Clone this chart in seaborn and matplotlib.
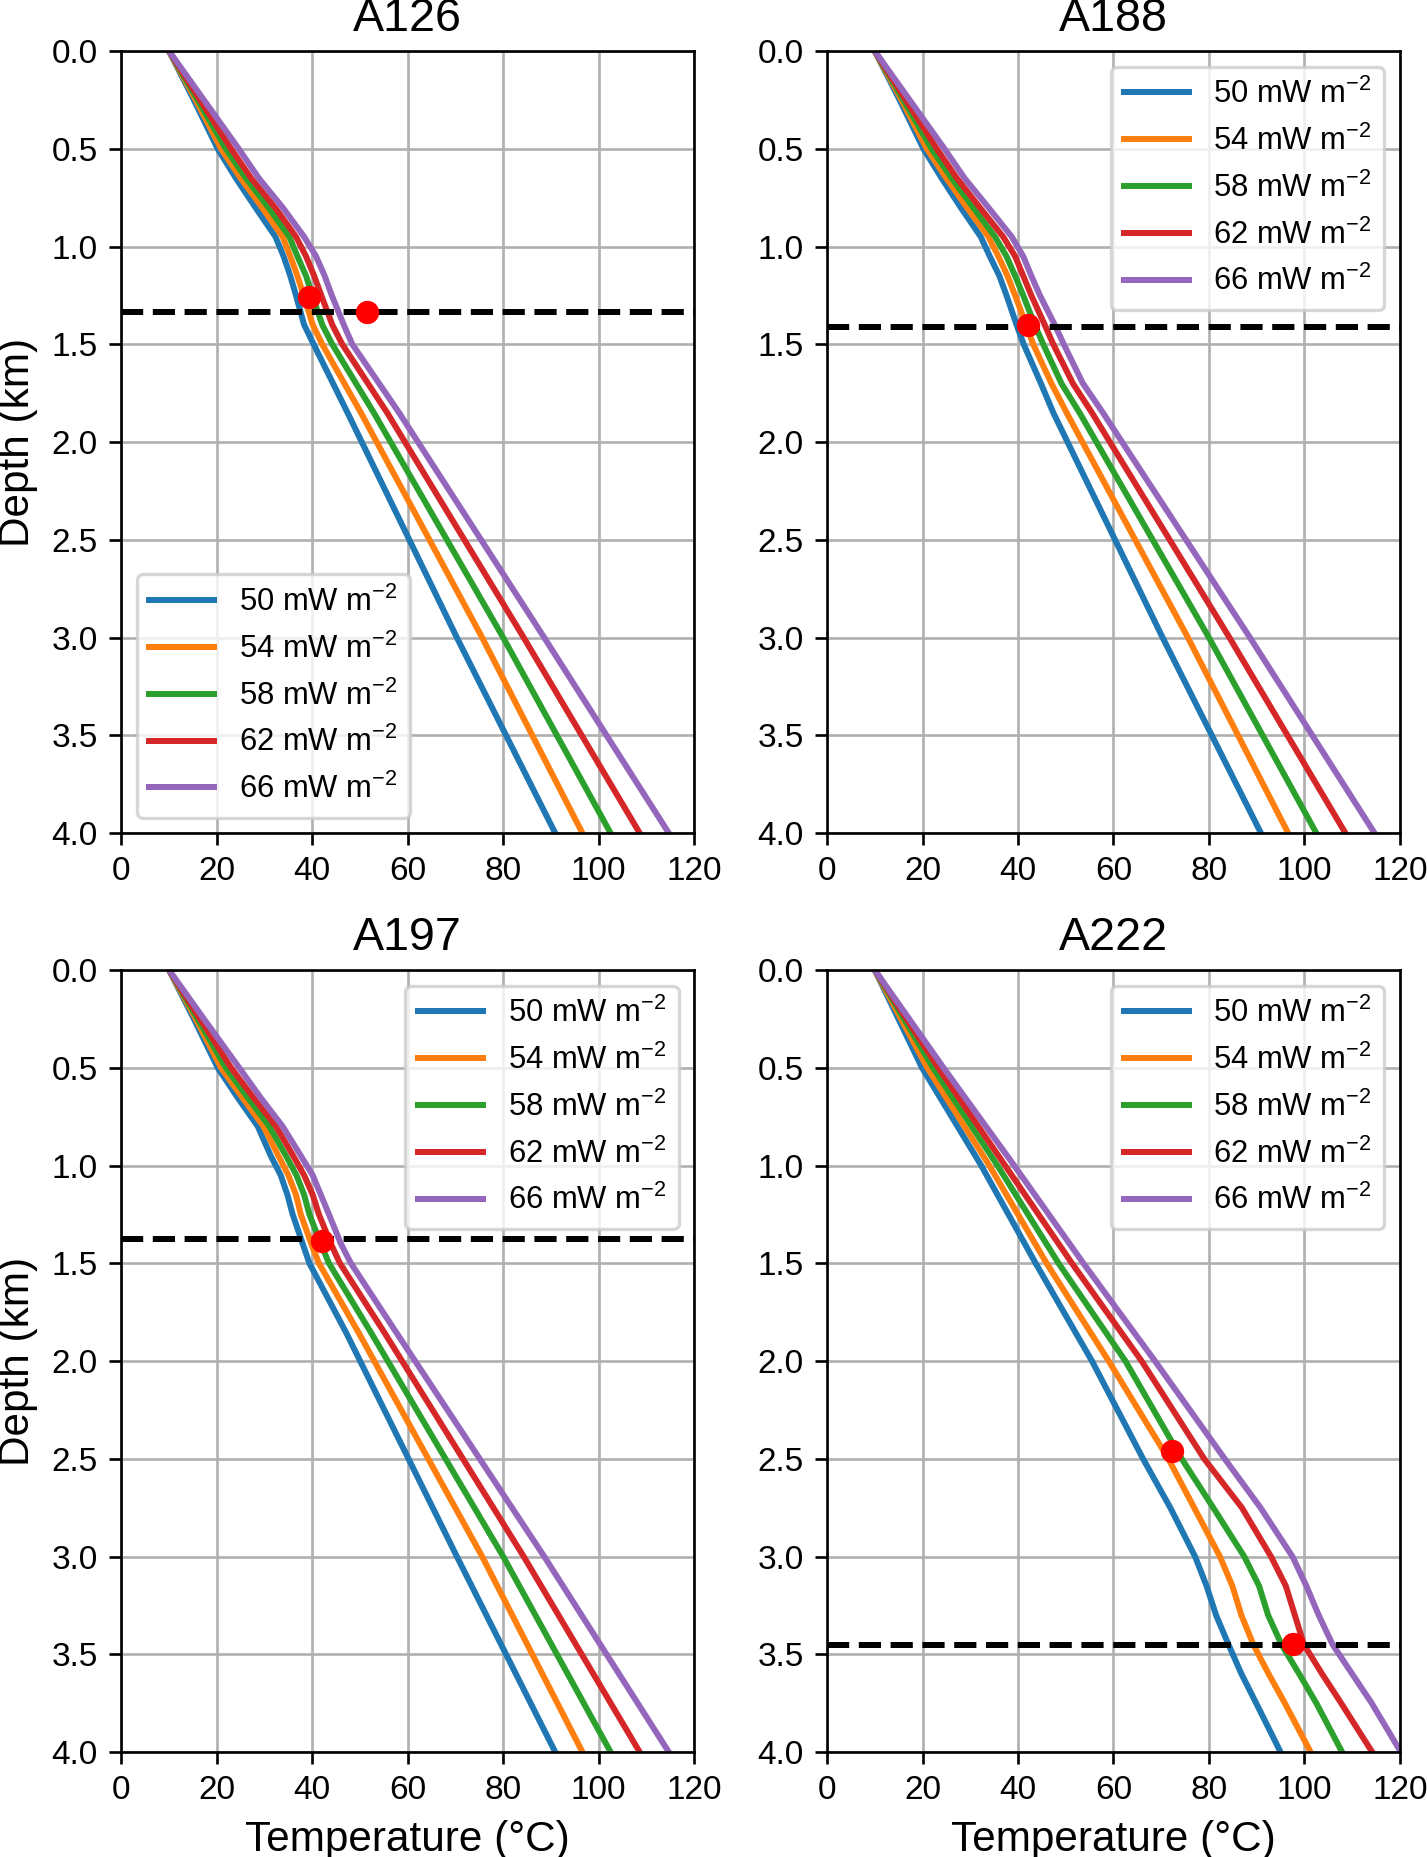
"""
Perfis de temperatura x profundidade para quatro poços (A126, A188, A197, A222),
um painel por poço, com uma curva por fluxo de calor basal.
"""

import matplotlib
matplotlib.use("Agg")
import matplotlib.pyplot as plt
import numpy as np
import pandas as pd
import seaborn as sns

# fluxos de calor (mW m-2) e cores das curvas
heat_flows = [50, 54, 58, 62, 66]
flow_labels = [f"{q} mW m$^{{-2}}$" for q in heat_flows]
colors = ["#1f77b4", "#ff7f0e", "#2ca02c", "#d62728", "#9467bd"]

wells = ["A126", "A188", "A197", "A222"]

# --- A126 ---
a126_depth = [0.0, 0.25, 0.5, 0.65, 0.8, 0.95, 1.05, 1.15, 1.25, 1.4, 1.5, 1.85, 3.0, 4.0]
a126_t50 = [10.0, 15.2, 20.2, 24.0, 28.1, 32.3, 34.0, 35.4, 36.6, 38.3, 40.3, 47.4, 70.3, 90.9]
a126_t54 = [10.0, 15.6, 20.9, 25.0, 29.5, 33.8, 35.4, 36.9, 38.2, 40.1, 42.1, 50.2, 75.6, 96.6]
a126_t58 = [10.0, 16.0, 21.9, 26.1, 30.8, 35.2, 36.9, 38.7, 40.0, 42.1, 44.2, 52.9, 80.0, 102.5]
a126_t62 = [10.0, 16.5, 23.0, 27.2, 32.2, 36.6, 38.7, 40.4, 41.9, 44.2, 46.3, 55.7, 84.3, 108.6]
a126_t66 = [10.0, 17.3, 24.6, 28.8, 33.8, 38.3, 40.8, 42.6, 44.1, 46.6, 48.4, 58.2, 88.6, 114.7]
a126_pick_t = [39.4, 51.4]
a126_pick_z = [1.258, 1.336]
a126_top = 1.336

# --- A188 ---
a188_depth = [0.0, 0.25, 0.5, 0.65, 0.8, 0.95, 1.05, 1.15, 1.25, 1.4, 1.5, 1.7, 1.85, 3.0, 4.0]
a188_t50 = [10.0, 15.2, 20.2, 24.0, 28.0, 32.2, 34.1, 36.1, 37.6, 39.7, 41.2, 44.8, 47.4, 70.3, 90.9]
a188_t54 = [10.0, 15.6, 20.9, 25.0, 29.3, 33.8, 35.9, 37.8, 39.4, 41.7, 43.2, 47.0, 50.2, 75.6, 96.6]
a188_t58 = [10.0, 16.0, 21.9, 26.1, 30.6, 35.2, 37.6, 39.4, 41.1, 43.5, 45.3, 49.1, 52.9, 80.0, 102.5]
a188_t62 = [10.0, 16.5, 23.0, 27.2, 32.0, 36.9, 39.4, 41.1, 42.8, 45.6, 47.4, 51.5, 55.5, 84.3, 108.6]
a188_t66 = [10.0, 17.3, 24.6, 28.8, 33.8, 38.7, 41.1, 42.8, 44.6, 47.7, 49.6, 53.6, 57.8, 88.6, 114.7]
a188_pick_t = [42.1]
a188_pick_z = [1.40]
a188_top = 1.413

# --- A197 ---
a197_depth = [0.0, 0.25, 0.5, 0.65, 0.8, 0.95, 1.05, 1.15, 1.25, 1.4, 1.5, 1.85, 3.0, 4.0]
a197_t50 = [10.0, 15.2, 20.2, 24.3, 28.6, 31.3, 33.4, 34.8, 35.9, 38.0, 39.4, 47.0, 70.3, 90.9]
a197_t54 = [10.0, 15.6, 20.9, 25.3, 29.8, 32.9, 35.0, 36.6, 37.6, 39.8, 41.4, 49.6, 75.6, 96.6]
a197_t58 = [10.0, 16.0, 21.9, 26.4, 31.0, 34.5, 36.7, 38.3, 39.4, 41.8, 43.5, 52.2, 80.0, 102.5]
a197_t62 = [10.0, 16.5, 23.0, 27.6, 32.4, 36.0, 38.3, 40.1, 41.4, 43.9, 45.8, 55.0, 84.3, 108.6]
a197_t66 = [10.0, 17.3, 24.7, 29.1, 33.8, 37.6, 40.1, 41.8, 43.5, 46.0, 48.1, 57.5, 88.6, 114.7]
a197_pick_t = [42.1]
a197_pick_z = [1.385]
a197_top = 1.375

# --- A222 ---
a222_depth = [0.0, 0.5, 1.0, 1.5, 2.0, 2.5, 2.75, 3.0, 3.15, 3.3, 3.45, 3.6, 3.75, 4.0]
a222_t50 = [10.0, 19.9, 32.3, 43.7, 55.5, 66.2, 71.9, 77.1, 79.5, 81.5, 84.1, 86.8, 89.9, 95.0]
a222_t54 = [10.0, 21.0, 34.0, 46.0, 59.0, 71.5, 76.9, 82.3, 84.9, 86.8, 89.3, 92.5, 95.9, 101.3]
a222_t58 = [10.0, 22.2, 35.7, 48.5, 62.5, 74.3, 80.9, 87.4, 90.5, 92.4, 95.2, 98.9, 102.5, 107.9]
a222_t62 = [10.0, 23.3, 37.3, 51.3, 65.9, 79.0, 86.9, 93.0, 96.1, 98.0, 99.9, 103.7, 107.7, 114.2]
a222_t66 = [10.0, 24.4, 39.2, 53.7, 68.7, 83.3, 90.8, 97.5, 100.4, 103.0, 105.9, 110.0, 114.1, 120.2]
a222_pick_t = [72.2, 97.6]
a222_pick_z = [2.46, 3.447]
a222_top = 3.45

panels = {
    "A126": (a126_depth, [a126_t50, a126_t54, a126_t58, a126_t62, a126_t66],
             a126_pick_t, a126_pick_z, a126_top, "lower left"),
    "A188": (a188_depth, [a188_t50, a188_t54, a188_t58, a188_t62, a188_t66],
             a188_pick_t, a188_pick_z, a188_top, "upper right"),
    "A197": (a197_depth, [a197_t50, a197_t54, a197_t58, a197_t62, a197_t66],
             a197_pick_t, a197_pick_z, a197_top, "upper right"),
    "A222": (a222_depth, [a222_t50, a222_t54, a222_t58, a222_t62, a222_t66],
             a222_pick_t, a222_pick_z, a222_top, "upper right"),
}

plt.rcParams["font.family"] = ["Liberation Sans", "DejaVu Sans"]
plt.rcParams["mathtext.default"] = "regular"
plt.rcParams["xtick.labelsize"] = 10
plt.rcParams["ytick.labelsize"] = 10

DPI = 240
fig, axes = plt.subplots(2, 2, figsize=(1427 / DPI, 1857 / DPI), dpi=DPI)
fig.subplots_adjust(left=0.085, right=0.981, top=0.9725, bottom=0.0565,
                    wspace=0.232, hspace=0.175)

for ax, well in zip(axes.flat, wells):
    depth, temps, pick_t, pick_z, top, loc = panels[well]

    # tabela longa para o seaborn
    df = pd.concat([
        pd.DataFrame({"depth": depth, "temp": t, "flow": lab})
        for t, lab in zip(temps, flow_labels)
    ])
    sns.lineplot(data=df, x="temp", y="depth", hue="flow", hue_order=flow_labels,
                 palette=colors, sort=False, estimator=None, lw=1.8,
                 legend=False, ax=ax)
    handles = list(ax.get_lines())

    ax.axhline(top, color="k", ls="--", lw=1.8)
    ax.plot(pick_t, pick_z, "ro", ms=6)

    ax.set_xlim(0, 120)
    ax.set_ylim(4, 0)
    ax.set_xticks(range(0, 121, 20))
    ax.set_yticks(np.arange(0, 4.01, 0.5))
    ax.yaxis.set_major_formatter(matplotlib.ticker.FormatStrFormatter("%.1f"))
    ax.grid(True)
    ax.set_title(well, fontsize=14)

    ax.legend(handles, flow_labels, loc=loc, fontsize=9.3, handlelength=2.1)

    ax.set_xlabel("Temperature (°C)" if well in ("A197", "A222") else "", fontsize=12.7)
    ax.set_ylabel("Depth (km)" if well in ("A126", "A197") else "", fontsize=12.7)

fig.savefig("out.png", dpi=DPI)
